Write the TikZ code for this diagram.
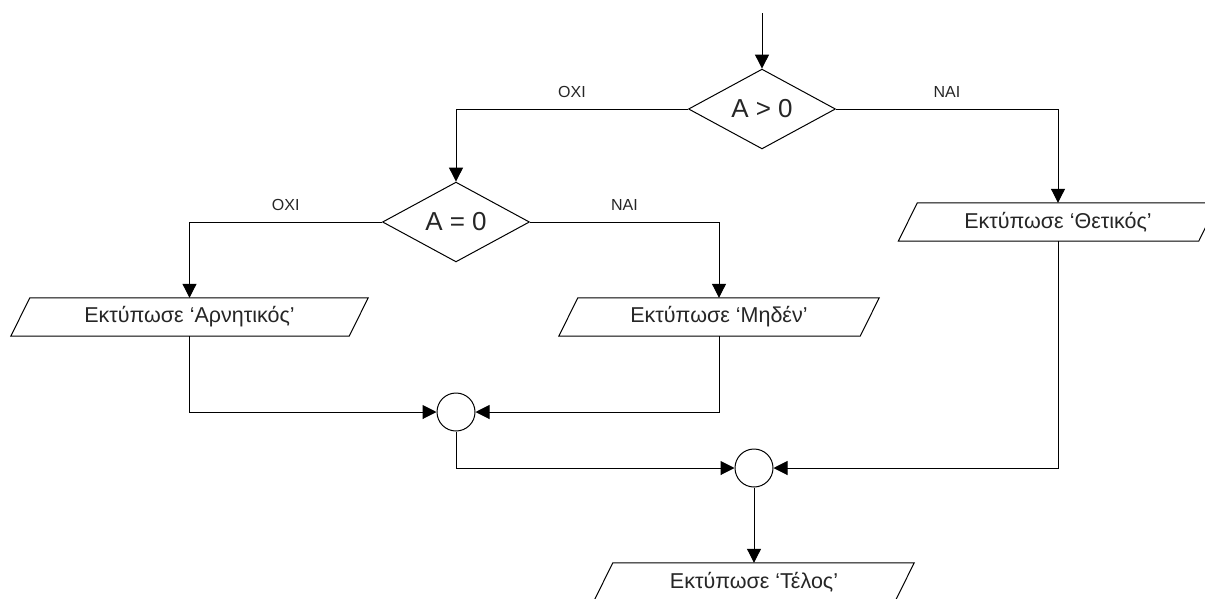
\documentclass[tikz,border=0pt]{standalone}
\usepackage{fontspec}
\setmainfont{Liberation Sans}
\usetikzlibrary{shapes.geometric,arrows.meta}
\newcommand\drawio[1]{\draw[ln] ([xshift=-9.5pt]#1.south west) -- ([xshift=-9.5pt]#1.south east) -- ([xshift=9.5pt]#1.north east) -- ([xshift=9.5pt]#1.north west) -- cycle;}
\tikzset{
  ln/.style={line width=1pt, draw=black},
  arr/.style={ln, -{Triangle[length=14pt,width=14pt]}},
  io/.style={minimum height=38pt, inner sep=0pt, text=black!85, font=\fontsize{21.5}{25}\selectfont},
  dec/.style={diamond, draw, line width=1pt, minimum width=147pt, minimum height=74pt, inner sep=0pt, text=black!85, font=\fontsize{26}{30}\selectfont},
  jn/.style={circle, draw, line width=1pt, minimum size=38pt, inner sep=0pt},
  lbl/.style={text=black!85, font=\fontsize{16}{19}\selectfont, inner sep=0pt}
}
\begin{document}
\begin{tikzpicture}[x=1pt,y=-1pt]
\useasboundingbox (0,0) rectangle (1205,598);
\fill[white] (0,0) rectangle (1205,598);
\coordinate (start) at (762,13);
\node[dec] (d1) at (762,109) {A > 0};
\node[dec, minimum height=75pt] (d2) at (456,222) {A = 0};
\node[io, minimum width=338pt] (ar) at (189.5,317) {Εκτύπωσε ‘Αρνητικός’};
\node[io, minimum width=301pt] (me) at (719,317) {Εκτύπωσε ‘Μηδέν’};
\node[io, minimum width=300pt] (th) at (1058,222) {Εκτύπωσε ‘Θετικός’};
\node[io, minimum width=301pt] (te) at (754,582) {Εκτύπωσε ‘Τέλος’};
\drawio{ar}\drawio{me}\drawio{th}\drawio{te}
\node[jn] (c1) at (456,412) {};
\node[jn] (c2) at (754,468) {};
\draw[arr] (start) -- (d1.north);
\draw[arr] (d1.west) -| node[lbl, pos=0.25, anchor=south, yshift=11pt] {OXI} (d2.north);
\draw[arr] (d1.east) -| node[lbl, pos=0.25, anchor=south, yshift=11pt] {NAI} (th.north);
\draw[arr] (d2.west) -| node[lbl, pos=0.25, anchor=south, yshift=11pt] {OXI} (ar.north);
\draw[arr] (d2.east) -| node[lbl, pos=0.25, anchor=south, yshift=11pt] {NAI} (me.north);
\draw[arr] (ar.south) |- (c1.west);
\draw[arr] (me.south) |- (c1.east);
\draw[arr] (c1.south) |- (c2.west);
\draw[arr] (th.south) |- (c2.east);
\draw[arr] (c2.south) -- (te.north);
\end{tikzpicture}
\end{document}
